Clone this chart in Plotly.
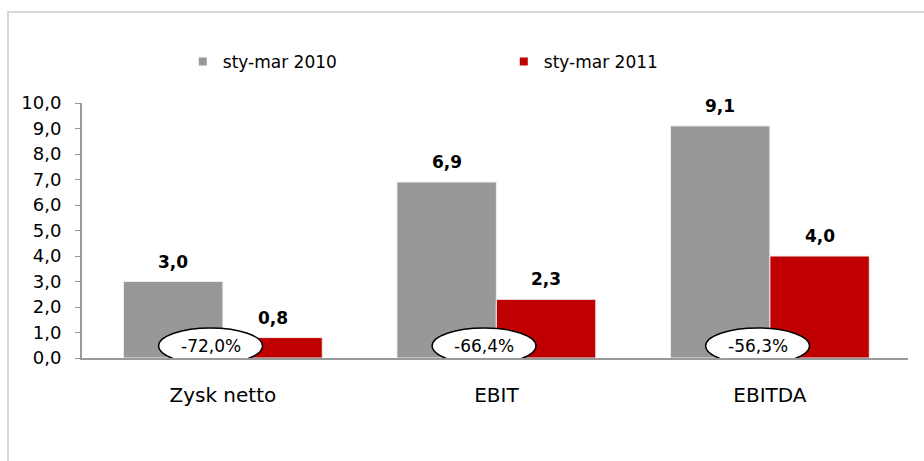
import plotly.graph_objects as go

categories = ['Zysk netto', 'EBIT', 'EBITDA']
series_names = ['sty-mar 2010', 'sty-mar 2011']
values_2010 = [3.0, 6.9, 9.1]
values_2011 = [0.8, 2.3, 4.0]
changes = ['-72,0%', '-66,4%', '-56,3%']
tick_vals = [0, 1, 2, 3, 4, 5, 6, 7, 8, 9, 10]

GRAY = '#989898'
RED = '#C00000'
AXIS = '#999999'
FONT = 'DejaVu Sans, Liberation Sans, Arial'

fig = go.Figure()

for vals, name, color in ((values_2010, series_names[0], GRAY),
                          (values_2011, series_names[1], RED)):
    fig.add_trace(go.Bar(
        x=categories, y=vals, name=name, showlegend=False,
        marker=dict(color=color, line=dict(color='#EDEDED', width=1)),
    ))
    # small square legend markers, like the original
    fig.add_trace(go.Scatter(
        x=[None], y=[None], mode='markers', name=name,
        marker=dict(symbol='square', size=8, color=color),
    ))

# value labels above the bars
annotations = []
for i, (a, b) in enumerate(zip(values_2010, values_2011)):
    for v, off in ((a, -0.182), (b, 0.182)):
        annotations.append(dict(
            x=i + off, y=v, xref='x', yref='y',
            text=f'{v:.1f}'.replace('.', ','),
            showarrow=False, yshift=20,
            font=dict(family=FONT, size=17, color='black', weight='bold'),
        ))

# percentage change ellipses
shapes = []
for i, txt in enumerate(changes):
    cx = i - 0.045
    shapes.append(dict(
        type='circle', xref='x', yref='y',
        x0=cx - 0.19, x1=cx + 0.19, y0=-0.24, y1=1.18,
        fillcolor='white', line=dict(color='black', width=1.5),
        layer='above',
    ))
    annotations.append(dict(
        x=cx, y=0.47, xref='x', yref='y', text=txt, showarrow=False,
        font=dict(family=FONT, size=17, color='black'),
    ))

# outer frame
shapes.append(dict(
    type='rect', xref='paper', yref='paper',
    x0=-0.0896, x1=1.1, y0=-0.5, y1=1.357,
    line=dict(color='#D9D9D9', width=2), fillcolor='rgba(0,0,0,0)',
    layer='below',
))

fig.update_layout(
    width=924, height=461,
    paper_bgcolor='white', plot_bgcolor='white',
    separators=', ',
    margin=dict(l=82, r=16, t=103, b=103),
    barmode='group', bargap=0.273, bargroupgap=0,
    font=dict(family=FONT, size=17, color='black'),
    legend=dict(
        orientation='h', x=0.122, y=1.161, xanchor='left', yanchor='middle',
        entrywidth=276, font=dict(size=17), traceorder='normal',
    ),
    shapes=shapes,
    annotations=annotations,
)

fig.update_xaxes(
    range=[-0.515, 2.505],
    showline=True, linecolor=AXIS, linewidth=2, ticks='',
    showgrid=False, tickfont=dict(size=20), ticklabelstandoff=18,
)
fig.update_yaxes(
    range=[0, 10], tickvals=tick_vals, tickformat='.1f',
    showline=True, linecolor=AXIS, linewidth=2,
    ticks='outside', ticklen=5, tickcolor=AXIS, tickwidth=1,
    showgrid=False, zeroline=False, tickfont=dict(size=18),
    ticklabelstandoff=10,
)

fig.write_html('out.html', config={'displayModeBar': False},
               post_script="document.body.style.margin='0px';")
